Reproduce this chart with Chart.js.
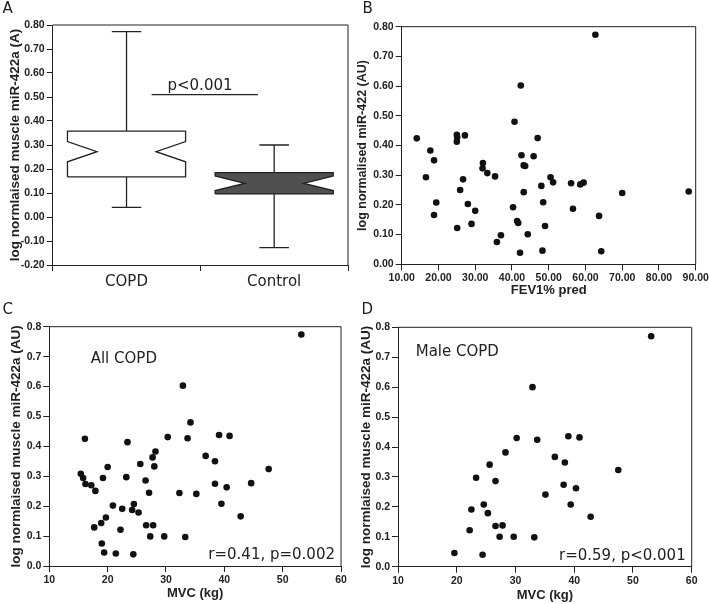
<!DOCTYPE html>
<html>
<head>
<meta charset="utf-8">
<script src="https://cdn.jsdelivr.net/npm/chart.js@4.4.0/dist/chart.umd.min.js"></script>
<style>
html, body { margin: 0; padding: 0; background: #fff; overflow: hidden; }
#page { position: relative; width: 709px; height: 604px; overflow: hidden; }
canvas { position: absolute; }
.note { position: absolute; font-family: "DejaVu Sans"; font-size: 15px; line-height: 15px; color: #222; white-space: nowrap; }
</style>
</head>
<body>
<div id="page">
  <canvas id="chartA" width="354" height="300" style="left:0;top:0"></canvas>
  <canvas id="chartB" width="370" height="300" style="left:354px;top:0"></canvas>
  <canvas id="chartC" width="354" height="304" style="left:0;top:300px"></canvas>
  <canvas id="chartD" width="370" height="304" style="left:354px;top:300px"></canvas>

  <div class="note" style="left:2.5px;top:0.8px">A</div>
  <div class="note" style="left:362.5px;top:0.6px">B</div>
  <div class="note" style="left:2.5px;top:302.3px">C</div>
  <div class="note" style="left:361.5px;top:302.3px">D</div>
  <div class="note" style="left:200px;top:78px;transform:translateX(-50%)">p&lt;0.001</div>
  <div class="note" style="left:90.7px;top:351.3px">All COPD</div>
  <div class="note" style="right:374px;top:547.3px">r=0.41, p=0.002</div>
  <div class="note" style="left:415.7px;top:344px">Male COPD</div>
  <div class="note" style="right:23.3px;top:548px">r=0.59, p&lt;0.001</div>
</div>
<script>
// panel A: notched box plot
const groups = ['COPD', 'Control'];
const whiskerHigh = [0.772, 0.300];
const q3 = [0.358, 0.185];
const notchHigh = [0.314, 0.171];
const median = [0.272, 0.140];
const notchLow = [0.230, 0.110];
const q1 = [0.167, 0.096];
const whiskerLow = [0.040, -0.128];
const boxFill = ['#ffffff', '#505050'];
const sigLineX = [0.67, 1.39];
const sigLineY = 0.51;

// panel B: FEV1% pred vs miR-422
const fevPred = [14.1, 17.8, 18.8, 16.6, 19.4, 18.8, 25.0, 25.1, 25.0, 27.2, 25.9, 26.7, 28.0, 25.1, 29.0, 30.0, 32.0, 32.1, 33.3, 35.4, 35.9, 37.0, 40.7, 40.3, 41.4, 41.7, 42.4, 42.6, 42.2, 43.2, 43.6, 43.2, 44.3, 45.9, 47.0, 48.0, 48.5, 48.3, 49.0, 50.5, 51.2, 56.1, 56.6, 58.6, 59.5, 62.7, 63.7, 64.3, 70.0, 88.1];
const mirFev = [0.424, 0.383, 0.350, 0.293, 0.208, 0.166, 0.436, 0.428, 0.413, 0.434, 0.250, 0.286, 0.203, 0.122, 0.136, 0.180, 0.323, 0.341, 0.307, 0.296, 0.075, 0.098, 0.480, 0.192, 0.146, 0.139, 0.602, 0.367, 0.039, 0.333, 0.331, 0.243, 0.101, 0.364, 0.425, 0.264, 0.209, 0.046, 0.129, 0.293, 0.276, 0.273, 0.187, 0.269, 0.275, 0.773, 0.163, 0.044, 0.240, 0.245];

// panel C: MVC vs miR-422a, all COPD
const mvcAll = [53.2, 32.9, 34.2, 30.3, 33.7, 39.1, 40.9, 36.8, 38.4, 47.6, 44.6, 40.4, 38.4, 35.2, 32.3, 39.5, 42.8, 33.3, 29.7, 27.3, 26.6, 27.8, 27.1, 26.5, 28.0, 28.2, 27.7, 25.6, 23.4, 23.2, 24.5, 25.3, 24.2, 22.5, 20.9, 22.2, 24.4, 21.4, 19.4, 19.0, 18.9, 19.7, 17.7, 20.0, 19.2, 16.1, 15.4, 15.8, 16.2, 17.2, 17.9];
const mirAll = [0.774, 0.603, 0.480, 0.431, 0.427, 0.438, 0.435, 0.368, 0.350, 0.324, 0.277, 0.263, 0.275, 0.241, 0.244, 0.208, 0.166, 0.097, 0.099, 0.099, 0.136, 0.136, 0.245, 0.286, 0.333, 0.383, 0.363, 0.341, 0.414, 0.297, 0.207, 0.179, 0.187, 0.191, 0.202, 0.121, 0.039, 0.042, 0.045, 0.075, 0.144, 0.162, 0.129, 0.331, 0.294, 0.425, 0.308, 0.294, 0.274, 0.270, 0.251];

// panel D: MVC vs miR-422a, male COPD
const mvcMale = [53.1, 32.9, 30.2, 33.7, 39.0, 40.9, 36.7, 38.4, 47.5, 28.3, 25.6, 23.3, 26.6, 38.2, 40.3, 35.1, 39.4, 42.8, 24.6, 22.5, 25.3, 22.2, 26.6, 27.8, 27.3, 29.7, 33.2, 19.6, 24.4];
const mirMale = [0.770, 0.600, 0.430, 0.424, 0.436, 0.432, 0.367, 0.348, 0.323, 0.382, 0.341, 0.297, 0.286, 0.274, 0.262, 0.241, 0.208, 0.167, 0.208, 0.191, 0.179, 0.122, 0.136, 0.138, 0.100, 0.100, 0.098, 0.046, 0.040];

const ink = '#222222';
Chart.defaults.font.family = '"Liberation Sans", Arial, sans-serif';
Chart.defaults.color = ink;
Chart.defaults.animation = false;

// top and right edges of the plot box
const frame = {
    id: 'frame',
    afterDraw(chart) {
        const { ctx, chartArea: a } = chart;
        ctx.save();
        ctx.strokeStyle = ink;
        ctx.lineWidth = 1;
        ctx.beginPath();
        ctx.moveTo(a.left, a.top);
        ctx.lineTo(a.right, a.top);
        ctx.lineTo(a.right, a.bottom);
        ctx.stroke();
        ctx.restore();
    }
};

function valueAxis(min, max, step, digits, size, title) {
    return {
        type: 'linear',
        min: min,
        max: max,
        ticks: {
            stepSize: step,
            autoSkip: false,
            maxRotation: 0,
            padding: 2,
            color: ink,
            font: { size: 10.5, weight: 'bold' },
            callback: v => v.toFixed(digits)
        },
        grid: { drawOnChartArea: false, tickLength: 6, tickColor: ink },
        border: { display: true, color: ink, width: 1 },
        title: title,
        afterFit: axis => {
            if (axis.isHorizontal()) axis.height = size;
            else axis.width = size;
        }
    };
}

function axisTitle(text, fontSize, padTop, padBottom) {
    return {
        display: true,
        text: text,
        color: ink,
        font: { size: fontSize, weight: 'bold' },
        padding: { top: padTop, bottom: padBottom }
    };
}

function line(points, color, width) {
    return {
        data: points,
        showLine: true,
        pointRadius: 0,
        borderColor: color || ink,
        borderWidth: width || 1.3,
        fill: false
    };
}

// box plot datasets
const boxSets = [];
groups.forEach((g, i) => {
    const c = i + 0.5;
    const hw = 0.4, nw = 0.2, cap = 0.1;
    boxSets.push({
        data: [
            { x: c - hw, y: q1[i] }, { x: c - hw, y: notchLow[i] }, { x: c - nw, y: median[i] },
            { x: c - hw, y: notchHigh[i] }, { x: c - hw, y: q3[i] }, { x: c + hw, y: q3[i] },
            { x: c + hw, y: notchHigh[i] }, { x: c + nw, y: median[i] }, { x: c + hw, y: notchLow[i] },
            { x: c + hw, y: q1[i] }, { x: c - hw, y: q1[i] }
        ],
        showLine: true,
        pointRadius: 0,
        borderColor: ink,
        borderWidth: 1.3,
        backgroundColor: boxFill[i],
        fill: 'shape'
    });
    boxSets.push(line([{ x: c - nw, y: median[i] }, { x: c + nw, y: median[i] }]));
    boxSets.push(line([{ x: c, y: q3[i] }, { x: c, y: whiskerHigh[i] }]));
    boxSets.push(line([{ x: c - cap, y: whiskerHigh[i] }, { x: c + cap, y: whiskerHigh[i] }]));
    boxSets.push(line([{ x: c, y: q1[i] }, { x: c, y: whiskerLow[i] }]));
    boxSets.push(line([{ x: c - cap, y: whiskerLow[i] }, { x: c + cap, y: whiskerLow[i] }]));
});
boxSets.push(line(sigLineX.map(x => ({ x: x, y: sigLineY }))));

const axisA = valueAxis(-0.2, 0.8, 0.1, 2, 52.7,
    axisTitle('log normlaised muscle miR-422a (A)', 13.5, 6.9, 0));

new Chart(document.getElementById('chartA'), {
    type: 'scatter',
    data: { datasets: boxSets },
    options: {
        responsive: false,
        layout: { padding: { top: 25, right: 6, left: 0, bottom: 0 } },
        plugins: { legend: { display: false }, tooltip: { enabled: false } },
        scales: {
            x: {
                type: 'linear',
                min: 0,
                max: 2,
                afterBuildTicks: axis => {
                    axis.ticks = [0, 0.5, 1, 1.5, 2].map(v => ({ value: v }));
                },
                ticks: {
                    autoSkip: false,
                    maxRotation: 0,
                    padding: 2,
                    color: ink,
                    font: { family: '"DejaVu Sans"', size: 15, weight: 'normal' },
                    callback: v => (v % 1 === 0.5 ? groups[v - 0.5] : '')
                },
                grid: {
                    drawOnChartArea: false,
                    tickLength: 6,
                    tickColor: c => (c.tick && c.tick.value % 1 !== 0 ? 'rgba(0,0,0,0)' : ink)
                },
                border: { display: true, color: ink, width: 1 },
                afterFit: axis => { axis.height = 35; }
            },
            y: axisA
        }
    },
    plugins: [frame]
});

function scatterChart(id, xs, ys, opts) {
    new Chart(document.getElementById(id), {
        type: 'scatter',
        data: {
            datasets: [{
                data: xs.map((x, i) => ({ x: x, y: ys[i] })),
                pointRadius: 3.3,
                pointBackgroundColor: '#111111',
                pointBorderWidth: 0
            }]
        },
        options: {
            responsive: false,
            layout: { padding: opts.padding },
            plugins: { legend: { display: false }, tooltip: { enabled: false } },
            scales: { x: opts.x, y: opts.y }
        },
        plugins: [frame]
    });
}

scatterChart('chartB', fevPred, mirFev, {
    padding: { top: 26.7, right: 28.3, left: 0, bottom: 0 },
    x: valueAxis(10, 90, 10, 2, 35.7, axisTitle('FEV1% pred', 13, 0, 2.2)),
    y: valueAxis(0, 0.8, 0.1, 2, 47.7, axisTitle('log normalised miR-422 (AU)', 12.5, 1.5, 0))
});

scatterChart('chartC', mvcAll, mirAll, {
    padding: { top: 26.7, right: 13, left: 0, bottom: 0 },
    x: valueAxis(10, 60, 10, 0, 38, axisTitle('MVC (kg)', 13, 0, 2.5)),
    y: valueAxis(0, 0.8, 0.1, 1, 49.3, axisTitle('log normlaised muscle miR-422a (AU)', 13.5, 7.9, 0))
});

scatterChart('chartD', mvcMale, mirMale, {
    padding: { top: 27.3, right: 32.3, left: 0, bottom: 0 },
    x: valueAxis(10, 60, 10, 0, 37.3, axisTitle('MVC (kg)', 13, 0, 0.5)),
    y: valueAxis(0, 0.8, 0.1, 1, 44, axisTitle('log normlaised muscle miR-422a (AU)', 13.5, 4.4, 0))
});
</script>
</body>
</html>
